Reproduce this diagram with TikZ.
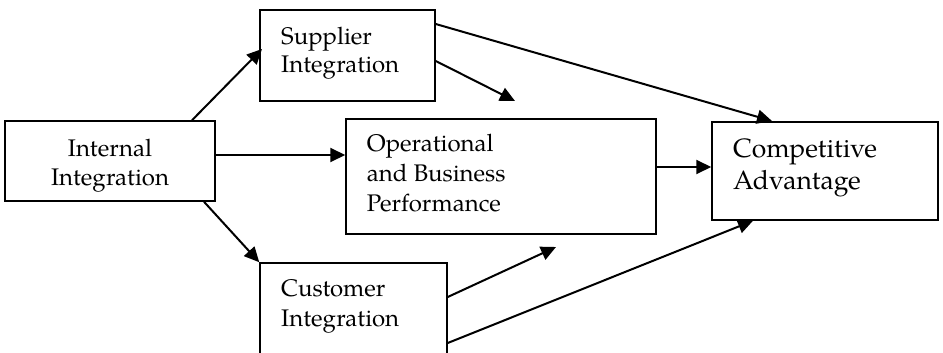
\documentclass[tikz,border=0pt]{standalone}
\usepackage{fontspec}
\setmainfont{TeX Gyre Pagella}
\usetikzlibrary{arrows.meta}
\begin{document}
\begin{tikzpicture}[x=1pt,y=-1pt,
  box/.style={draw, line width=1.5pt, inner sep=0pt, rectangle},
  txt/.style={inner sep=0pt, anchor=base west, font=\fontsize{24}{30}\selectfont},
  bigtxt/.style={inner sep=0pt, anchor=base west, font=\fontsize{26.5}{32.5}\selectfont},
  link/.style={line width=2pt, -{Triangle[length=15pt,width=14pt]}}]
  \clip (0,0) rectangle (943,353);
  \fill[white] (0,0) rectangle (943,353);

  % boxes
  \node[box, minimum width=175pt, minimum height=91pt]  (sup)  at (347.5,55.5) {};
  \node[box, minimum width=210pt, minimum height=80pt]  (int)  at (110,161) {};
  \node[box, minimum width=310pt, minimum height=115pt] (ops)  at (501,176.5) {};
  \node[box, minimum width=226pt, minimum height=98pt]  (comp) at (825,171) {};
  \node[box, minimum width=187pt, minimum height=130pt] (cus)  at (353.5,328) {};

  % labels
  \node[txt] (supA) at (281,44.3) {Supplier};
  \node[txt] (supB) at (281,72.7) {Integration};
  \node[txt, anchor=base] (intA) at (110,156.7) {Internal};
  \node[txt, anchor=base] (intB) at (110,185) {Integration};
  \node[txt] (opsA) at (366.7,151.7) {Operational};
  \node[txt] (opsB) at (366.7,181.7) {and Business};
  \node[txt] (opsC) at (366.7,211.7) {Performance};
  \node[bigtxt] (compA) at (733,157.3) {Competitive};
  \node[bigtxt] (compB) at (733,189.7) {Advantage};
  \node[txt] (cusA) at (281,296.7) {Customer};
  \node[txt] (cusB) at (281,326) {Integration};

  % loose arrow ends pointing at the performance box
  \coordinate (supOps) at (515,101);
  \coordinate (cusOps) at (556,247);

  % connectors
  \draw[link] (int.north -| 192,0) -- (262,49);
  \draw[link] (int.east |- 0,155) -- (ops.west |- 0,155);
  \draw[link] (int.south -| 204,0) -- (cus.north west);
  \draw[link] (sup.east |- 0,61) -- (supOps);
  \draw[link] (sup.east |- 0,24) -- (772,121);
  \draw[link] (ops.east |- 0,167) -- (comp.west |- 0,167);
  \draw[link] (cus.east |- 0,297) -- (cusOps);
  \draw[link] (cus.east |- 0,343) -- (comp.south -| 753,0);
\end{tikzpicture}
\end{document}
